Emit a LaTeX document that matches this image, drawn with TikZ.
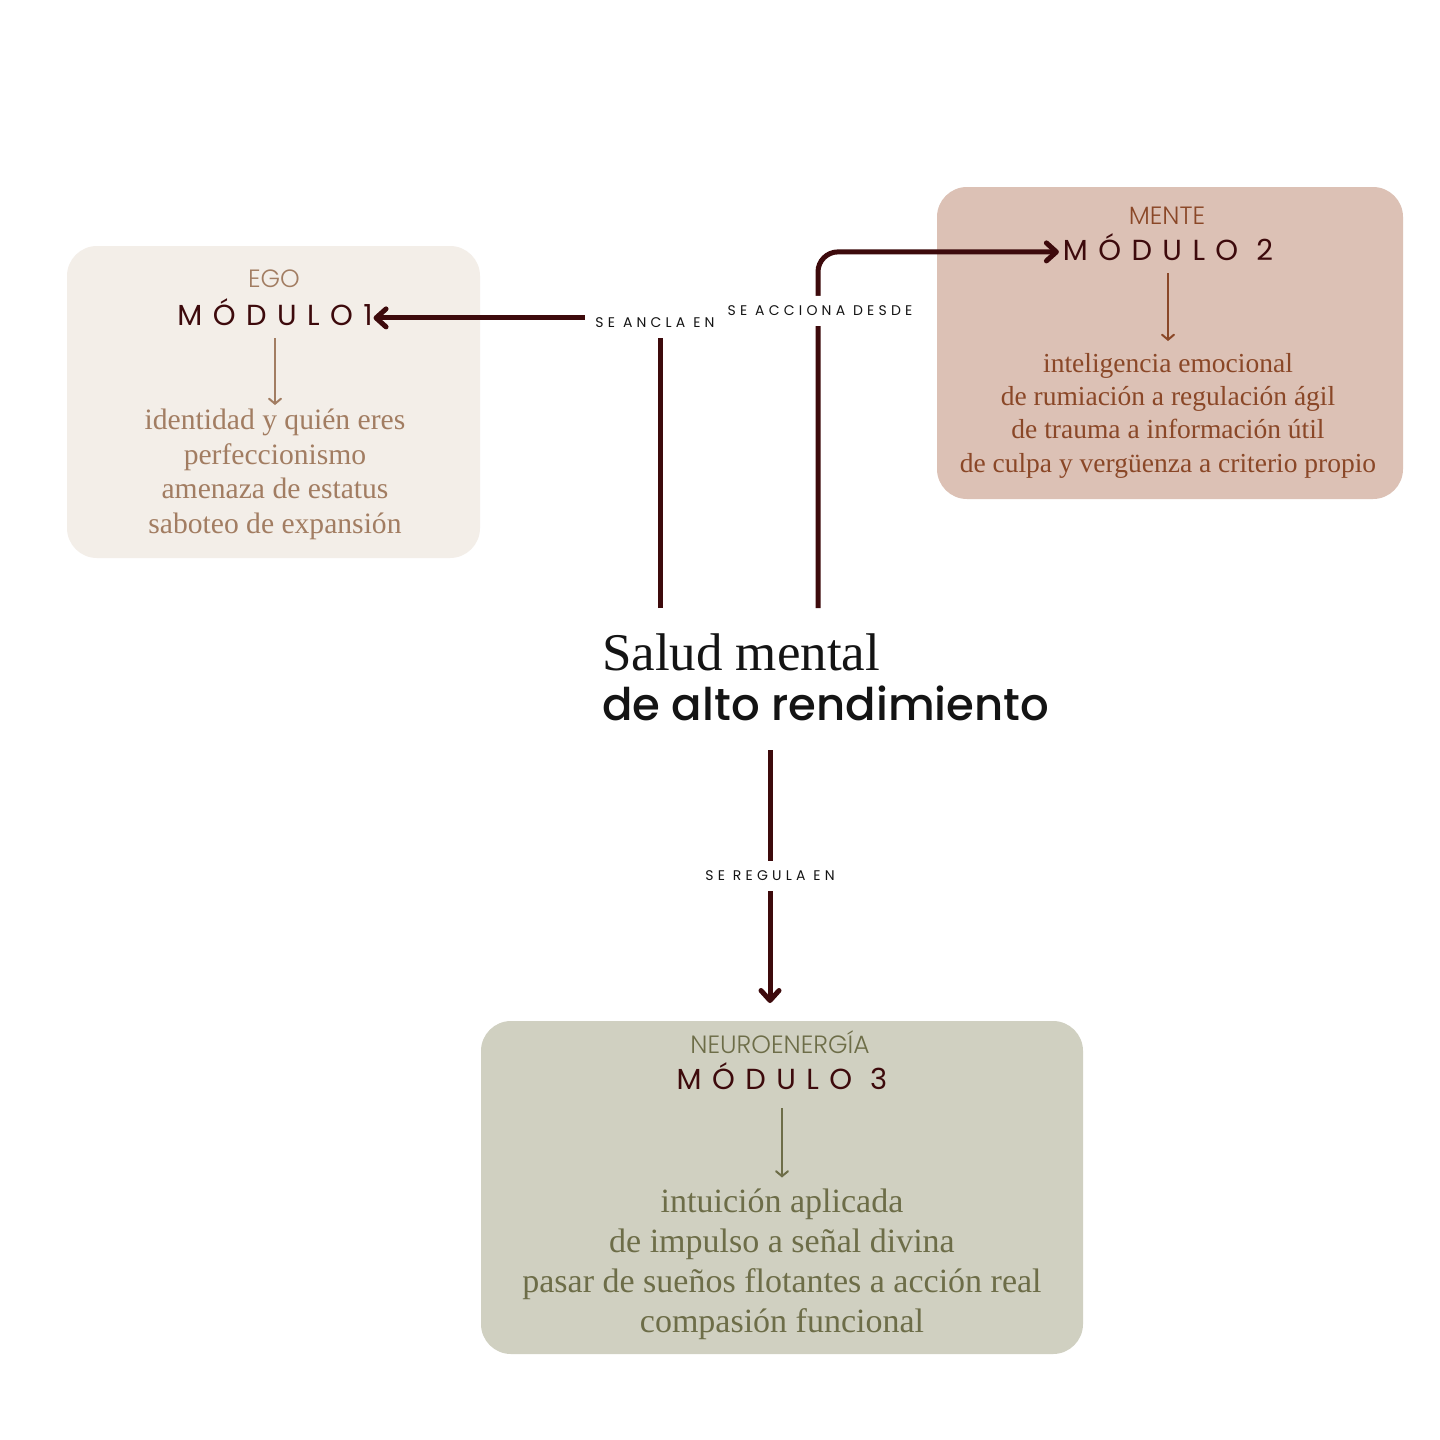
\documentclass[tikz,border=0pt]{standalone}
\usepackage{fontspec}
\setmainfont{Liberation Serif}
\newfontfamily\geosans{Poppins Light}
\newfontfamily\geomedium{Poppins Medium}
\newfontfamily\geotrack[LetterSpace=36]{Poppins}
\newfontfamily\geotag[LetterSpace=30]{Poppins}
\usepackage{xcolor}
\usetikzlibrary{arrows.meta, positioning}

\definecolor{wine}{HTML}{3D0A0C}
\definecolor{ink}{HTML}{141414}
\definecolor{egofill}{HTML}{F3EEE8}
\definecolor{egotext}{HTML}{A27D62}
\definecolor{mentefill}{HTML}{DCC1B5}
\definecolor{mentetext}{HTML}{8A4727}
\definecolor{neurofill}{HTML}{D0D0C1}
\definecolor{neurotext}{HTML}{6D6D48}

\begin{document}
\begin{tikzpicture}[
    x=0.5pt, y=-0.5pt,
    every node/.style={inner sep=0pt, outer sep=0pt},
    modbox/.style={rectangle, rounded corners=15pt, fill=#1},
    modtag/.style={font=\geosans\fontsize{12.5}{14}\selectfont, text=#1, anchor=base},
    modtitle/.style={font=\geotrack\fontsize{14.5}{16}\selectfont, text=wine, anchor=base,
        text height=10.1pt, text depth=0pt},
    modlist/.style={align=center, text=#1},
    flow/.style={draw=wine, line width=2.5pt,
        -{Straight Barb[length=5pt, width=9pt, line cap=round, line join=round]}},
    subflow/.style={draw=#1, line width=1pt,
        -{Straight Barb[length=2.5pt, width=6pt, line cap=round]}},
    tagline/.style={fill=white, inner sep=5pt, text=ink,
        font=\geotag\fontsize{7}{8}\selectfont},
]

\fill[white] (0,0) rectangle (1440,1440);
\useasboundingbox (0,0) rectangle (1440,1440);

% --- Module boxes ---
\node[modbox=egofill, minimum width=206.5pt, minimum height=156pt] (box1) at (273.5,402) {};
\node[modbox=mentefill, minimum width=233pt, minimum height=156pt] (box2) at (1170,343) {};
\node[modbox=neurofill, minimum width=301pt, minimum height=166.5pt] (box3) at (782,1187.5) {};

% --- Module 1: Ego ---
\node[modtag=egotext] (tag1) at (274,287) {EGO};
\node[modtitle] (mod1) at (275,325) {MÓDULO1};
\node[modlist=egotext, font=\fontsize{14.8}{17.25}\selectfont, below=42pt of mod1] (list1)
    {identidad y quién eres\\perfeccionismo\\amenaza de estatus\\saboteo de expansión};

% --- Module 2: Mente ---
\node[modtag=mentetext] (tag2) at (1167,224) {MENTE};
\node[modtitle] (mod2) at (1168,260) {MÓDULO 2};
\node[modlist=mentetext, font=\fontsize{13.75}{16.7}\selectfont, below=46.5pt of mod2] (list2)
    {inteligencia emocional\\de rumiación a regulación ágil\\de trauma a información útil\\de culpa y vergüenza a criterio propio};

% --- Module 3: Neuroenergia ---
\node[modtag=neurotext] (tag3) at (780,1053) {NEUROENERGÍA};
\node[modtitle] (mod3) at (782,1089) {MÓDULO 3};
\node[modlist=neurotext, font=\fontsize{17}{20}\selectfont, below=50pt of mod3] (list3)
    {intuición aplicada\\de impulso a señal divina\\pasar de sueños flotantes a acción real\\compasión funcional};

% --- Central title ---
\node[anchor=base west, text=ink, font=\fontsize{26.5}{30}\selectfont] (salud) at (602,670) {Salud mental};
\node[anchor=base west, text=ink, font=\geomedium\fontsize{22.5}{26}\selectfont] (rendimiento) at (602,720) {de alto rendimiento};

\coordinate (up1) at (660,608);
\coordinate (up2) at (818,608);
\coordinate (down3) at (770,750);

% --- Arrows ---
\draw[flow] (up1) |- node[tagline, xshift=-2.5pt, yshift=-2.5pt] {SE ANCLA EN} ([xshift=0.5pt, yshift=-1.5pt]mod1.east);
\draw[flow, rounded corners=10pt] (up2) |- node[tagline, pos=0.42, xshift=1pt, yshift=-1pt] {SE ACCIONA DESDE} ([xshift=-2pt, yshift=-1pt]mod2.west);
\draw[flow, shorten >=9pt] (down3) -- node[tagline, pos=0.465] {SE REGULA EN} (down3 |- box3.north);

\draw[subflow=egotext, shorten <=6.5pt, shorten >=2pt] (mod1.south) -- (list1.north);
\draw[subflow=mentetext, shorten <=6.5pt, shorten >=6pt] (mod2.south) -- (list2.north);
\draw[subflow=neurotext, shorten <=9.5pt, shorten >=5.75pt] (mod3.south) -- (list3.north);

\end{tikzpicture}
\end{document}
